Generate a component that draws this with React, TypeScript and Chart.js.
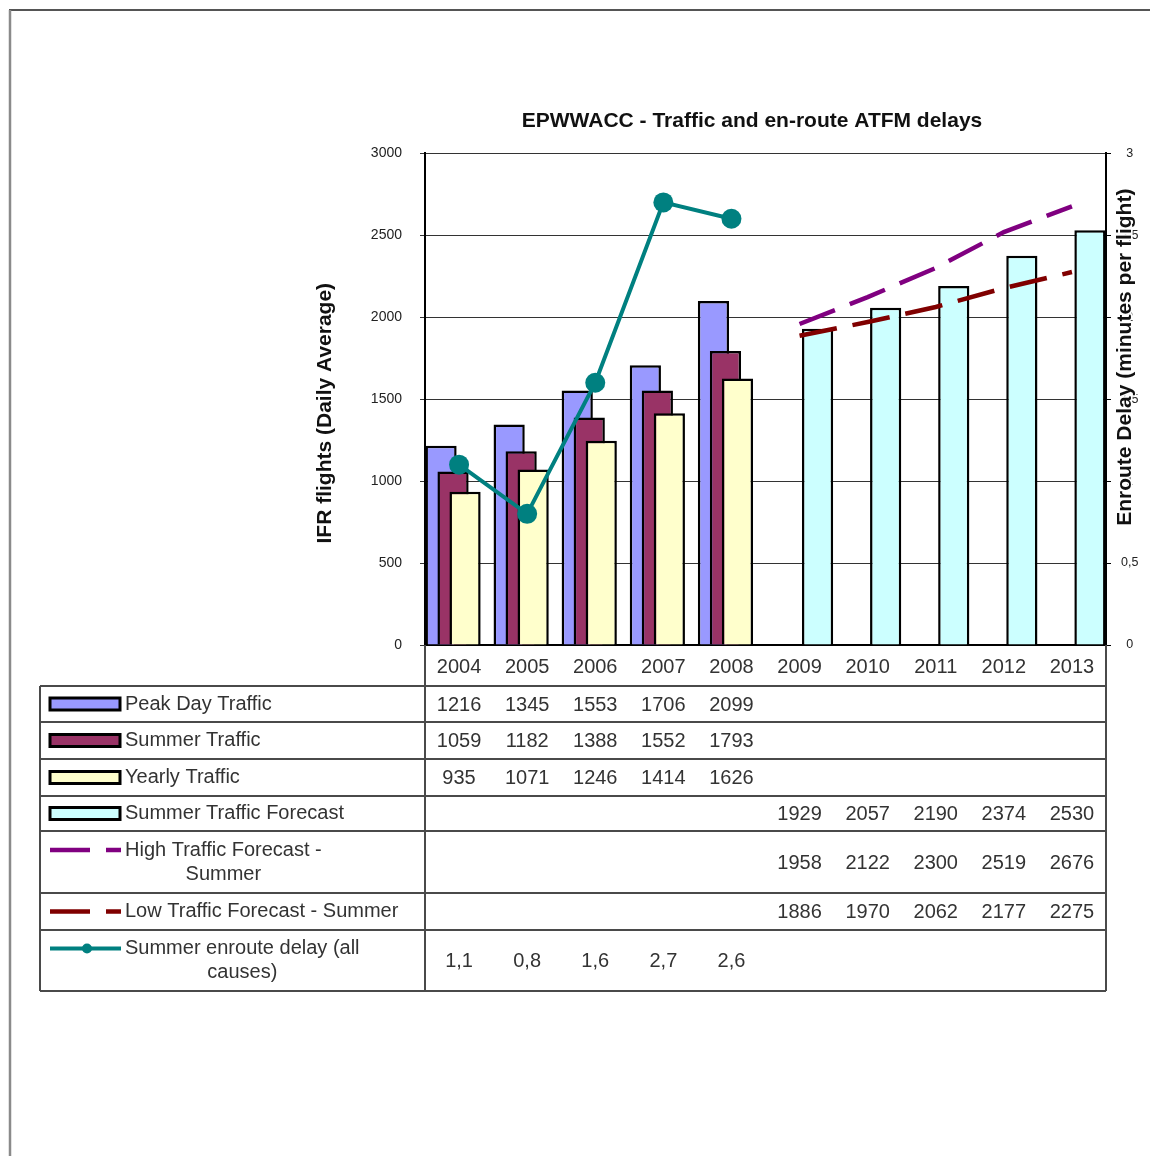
import React, { useEffect, useRef } from 'react';
import { Chart, registerables } from 'chart.js';

Chart.register(...registerables);

const FONT = '"Liberation Sans", Arial, sans-serif';

// Categories
const years = ['2004', '2005', '2006', '2007', '2008', '2009', '2010', '2011', '2012', '2013'];

// Traffic (IFR flights, daily average)
const peakDayTraffic = [1216, 1345, 1553, 1706, 2099, null, null, null, null, null];
const summerTraffic = [1059, 1182, 1388, 1552, 1793, null, null, null, null, null];
const yearlyTraffic = [935, 1071, 1246, 1414, 1626, null, null, null, null, null];
const summerTrafficForecast = [null, null, null, null, null, 1929, 2057, 2190, 2374, 2530];
const highTrafficForecast = [null, null, null, null, null, 1958, 2122, 2300, 2519, 2676];
const lowTrafficForecast = [null, null, null, null, null, 1886, 1970, 2062, 2177, 2275];

// En-route delay (minutes per flight)
const enrouteDelay = [1.1, 0.8, 1.6, 2.7, 2.6, null, null, null, null, null];

// Axis ranges
const trafficMax = 3000;
const trafficStep = 500;
const delayMax = 3;
const delayStep = 0.5;

// Texts
const chartTitle = 'EPWWACC - Traffic and en-route ATFM delays';
const leftAxisTitle = 'IFR flights (Daily Average)';
const rightAxisTitle = 'Enroute Delay (minutes per flight)';

const peakLabel = ['Peak Day Traffic'];
const summerLabel = ['Summer Traffic'];
const yearlyLabel = ['Yearly Traffic'];
const forecastLabel = ['Summer Traffic Forecast'];
const highLabel = ['High Traffic Forecast -', 'Summer'];
const lowLabel = ['Low Traffic Forecast - Summer'];
const delayLabel = ['Summer enroute delay (all', 'causes)'];

const COLORS = {
  peak: '#9999FF',
  summer: '#993366',
  yearly: '#FFFFCC',
  forecast: '#CCFFFF',
  high: '#800080',
  low: '#800000',
  delay: '#008080',
};

const commaDecimal = (v: number) => v.toFixed(1).replace('.', ',');
const integer = (v: number) => String(Math.round(v));

type Row = {
  lines: string[];
  symbol: 'box' | 'dash' | 'marker';
  color: string;
  values: (number | null)[];
  format: (v: number) => string;
  height: number;
};

const tableRows: Row[] = [
  { lines: peakLabel, symbol: 'box', color: COLORS.peak, values: peakDayTraffic, format: integer, height: 36 },
  { lines: summerLabel, symbol: 'box', color: COLORS.summer, values: summerTraffic, format: integer, height: 37 },
  { lines: yearlyLabel, symbol: 'box', color: COLORS.yearly, values: yearlyTraffic, format: integer, height: 37 },
  { lines: forecastLabel, symbol: 'box', color: COLORS.forecast, values: summerTrafficForecast, format: integer, height: 35 },
  { lines: highLabel, symbol: 'dash', color: COLORS.high, values: highTrafficForecast, format: integer, height: 62 },
  { lines: lowLabel, symbol: 'dash', color: COLORS.low, values: lowTrafficForecast, format: integer, height: 37 },
  { lines: delayLabel, symbol: 'marker', color: COLORS.delay, values: enrouteDelay, format: commaDecimal, height: 61 },
];

// Draws the bar series in dataset order so that each later series in a cluster overlaps the previous one
const layeredBars = {
  id: 'layeredBars',
  beforeDatasetsDraw(chart: any) {
    chart.data.datasets.forEach((_: any, i: number) => {
      const meta = chart.getDatasetMeta(i);
      if (meta.type === 'bar' && chart.isDatasetVisible(i)) meta.controller.draw();
    });
  },
  beforeDatasetDraw(_chart: any, args: any) {
    if (args.meta.type === 'bar') return false;
    return undefined;
  },
};

// Frame, axis titles and the data table under the plot
const dataTable = {
  id: 'dataTable',
  afterDraw(chart: any) {
    const { ctx, chartArea, scales } = chart;
    const xs = scales.x;
    const tableLeft = 40;
    const right = chartArea.right;
    const divider = chartArea.left;
    const headerBottom = chartArea.bottom + 41;

    ctx.save();

    // outer frame
    ctx.lineWidth = 2;
    ctx.strokeStyle = '#555';
    ctx.beginPath();
    ctx.moveTo(9, 10);
    ctx.lineTo(chart.width, 10);
    ctx.stroke();
    ctx.strokeStyle = '#8a8a8a';
    ctx.lineWidth = 2.5;
    ctx.beginPath();
    ctx.moveTo(10, 10);
    ctx.lineTo(10, chart.height);
    ctx.stroke();

    // grid of the table
    const tops: number[] = [];
    let y = headerBottom;
    tableRows.forEach((r) => {
      tops.push(y);
      y += r.height;
    });
    const bottom = y;
    ctx.strokeStyle = '#4a4a4a';
    ctx.lineWidth = 2;
    ctx.beginPath();
    [...tops, bottom].forEach((yy) => {
      ctx.moveTo(tableLeft, yy);
      ctx.lineTo(right, yy);
    });
    ctx.moveTo(tableLeft, headerBottom);
    ctx.lineTo(tableLeft, bottom);
    ctx.moveTo(divider, chartArea.bottom);
    ctx.lineTo(divider, bottom);
    ctx.moveTo(right, chartArea.bottom);
    ctx.lineTo(right, bottom);
    ctx.stroke();

    // rows
    ctx.font = `20px ${FONT}`;
    ctx.textBaseline = 'middle';
    tableRows.forEach((row, r) => {
      const cy = tops[r] + row.height / 2;
      const lh = 24;
      const firstY = cy - ((row.lines.length - 1) * lh) / 2;

      // legend key
      if (row.symbol === 'box') {
        ctx.fillStyle = row.color;
        ctx.fillRect(50, cy - 6, 70, 12);
        ctx.strokeStyle = '#000';
        ctx.lineWidth = 3;
        ctx.strokeRect(50, cy - 6, 70, 12);
      } else if (row.symbol === 'dash') {
        ctx.strokeStyle = row.color;
        ctx.lineWidth = 4.5;
        ctx.beginPath();
        ctx.moveTo(50, firstY);
        ctx.lineTo(90, firstY);
        ctx.moveTo(106, firstY);
        ctx.lineTo(121, firstY);
        ctx.stroke();
      } else {
        ctx.strokeStyle = row.color;
        ctx.lineWidth = 4;
        ctx.beginPath();
        ctx.moveTo(50, firstY);
        ctx.lineTo(121, firstY);
        ctx.stroke();
        ctx.fillStyle = row.color;
        ctx.beginPath();
        ctx.arc(87, firstY, 5, 0, Math.PI * 2);
        ctx.fill();
      }

      // legend text
      ctx.fillStyle = '#333';
      const textX = 125;
      if (row.lines.length === 1) {
        ctx.textAlign = 'left';
        ctx.fillText(row.lines[0], textX, cy);
      } else {
        const w = Math.max(...row.lines.map((l) => ctx.measureText(l).width));
        ctx.textAlign = 'center';
        row.lines.forEach((l, k) => ctx.fillText(l, textX + w / 2, firstY + k * lh));
      }

      // values
      ctx.textAlign = 'center';
      row.values.forEach((v, i) => {
        if (v === null || v === undefined) return;
        ctx.fillText(row.format(v), xs.getPixelForValue(i), cy + 1);
      });
    });

    // axis titles
    ctx.font = `bold 21px ${FONT}`;
    ctx.textAlign = 'center';
    ctx.textBaseline = 'middle';
    ctx.fillStyle = '#111';

    ctx.save();
    ctx.translate(chartArea.left - 100, chartArea.top + 260);
    ctx.rotate(-Math.PI / 2);
    ctx.fillText(leftAxisTitle, 0, 0);
    ctx.restore();

    ctx.save();
    ctx.translate(chartArea.right + 19, chartArea.top + 204);
    ctx.rotate(-Math.PI / 2);
    ctx.lineWidth = 3;
    ctx.strokeStyle = '#fff';
    ctx.strokeText(rightAxisTitle, 0, 0);
    ctx.fillText(rightAxisTitle, 0, 0);
    ctx.restore();

    ctx.restore();
  },
};

const barStyle = {
  type: 'bar' as const,
  borderColor: '#000',
  borderWidth: 2.5,
  categoryPercentage: 0.705,
  barPercentage: 2.6,
  yAxisID: 'y',
};

export default function App() {
  const canvasRef = useRef<HTMLCanvasElement>(null);

  useEffect(() => {
    if (!canvasRef.current) return;
    const chart = new Chart(canvasRef.current, {
      type: 'bar',
      data: {
        labels: years,
        datasets: [
          { ...barStyle, label: peakLabel.join(' '), data: peakDayTraffic, backgroundColor: COLORS.peak },
          { ...barStyle, label: summerLabel.join(' '), data: summerTraffic, backgroundColor: COLORS.summer },
          { ...barStyle, label: yearlyLabel.join(' '), data: yearlyTraffic, backgroundColor: COLORS.yearly },
          { ...barStyle, label: forecastLabel.join(' '), data: summerTrafficForecast, backgroundColor: COLORS.forecast },
          {
            type: 'line',
            label: highLabel.join(' '),
            data: highTrafficForecast,
            borderColor: COLORS.high,
            borderWidth: 4.5,
            borderDash: [38, 16],
            pointRadius: 0,
            fill: false,
            yAxisID: 'y',
          },
          {
            type: 'line',
            label: lowLabel.join(' '),
            data: lowTrafficForecast,
            borderColor: COLORS.low,
            borderWidth: 4.5,
            borderDash: [38, 16],
            pointRadius: 0,
            fill: false,
            yAxisID: 'y',
          },
          {
            type: 'line',
            label: delayLabel.join(' '),
            data: enrouteDelay,
            borderColor: COLORS.delay,
            backgroundColor: COLORS.delay,
            borderWidth: 4,
            pointRadius: 10,
            pointBackgroundColor: COLORS.delay,
            pointBorderColor: COLORS.delay,
            pointBorderWidth: 0,
            fill: false,
            yAxisID: 'y1',
          },
        ] as any,
      },
      options: {
        responsive: false,
        animation: false,
        devicePixelRatio: 1,
        layout: { padding: { left: 354, right: 0, top: 0, bottom: 470 } },
        plugins: {
          legend: { display: false },
          tooltip: { enabled: false },
          title: {
            display: true,
            text: chartTitle,
            color: '#111',
            font: { family: FONT, size: 21, weight: 'bold' },
            padding: { top: 109, bottom: 19 },
          },
        },
        scales: {
          x: {
            grid: { display: false, drawTicks: false },
            border: { display: true, color: '#000', width: 2 },
            ticks: {
              color: '#333',
              font: { family: FONT, size: 20 },
              padding: 10,
              autoSkip: false,
              maxRotation: 0,
            },
            afterFit: (s: any) => {
              s.height = 41;
            },
          },
          y: {
            position: 'left',
            min: 0,
            max: trafficMax,
            ticks: {
              stepSize: trafficStep,
              color: '#222',
              font: { family: FONT, size: 14 },
              padding: 18,
              callback: (v: any) => String(v),
            },
            grid: { color: '#333', lineWidth: 1, tickLength: 5, drawTicks: true },
            border: { color: '#000', width: 2 },
            afterFit: (s: any) => {
              s.width = 71;
            },
          },
          y1: {
            position: 'right',
            min: 0,
            max: delayMax,
            ticks: {
              stepSize: delayStep,
              color: '#222',
              font: { family: FONT, size: 12.5 },
              padding: 10,
              crossAlign: 'center',
              callback: (v: any) => String(v).replace('.', ','),
            },
            grid: { drawOnChartArea: false, color: '#000', tickLength: 5, drawTicks: true },
            border: { color: '#000', width: 2 },
            afterFit: (s: any) => {
              s.width = 44;
            },
          },
        },
      } as any,
      plugins: [layeredBars, dataTable],
    });
    return () => chart.destroy();
  }, []);

  return (
    <div style={{ position: 'absolute', left: 0, top: 0, width: 1150, height: 1156, background: '#fff' }}>
      <canvas ref={canvasRef} width={1150} height={1156} style={{ display: 'block' }} />
    </div>
  );
}
